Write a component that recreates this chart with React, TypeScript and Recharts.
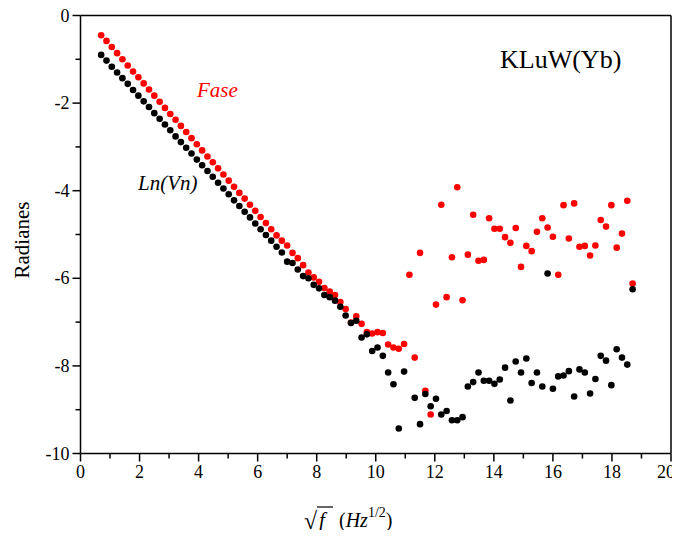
import React from 'react';
import { ScatterChart, Scatter, XAxis, YAxis, ReferenceLine } from 'recharts';

const xValues = [
  0.70, 0.88, 1.06, 1.24, 1.42, 1.60, 1.78, 1.96, 2.14, 2.32,
  2.50, 2.68, 2.86, 3.04, 3.22, 3.40, 3.58, 3.76, 3.94, 4.12,
  4.30, 4.48, 4.66, 4.84, 5.02, 5.20, 5.38, 5.56, 5.74, 5.92,
  6.10, 6.28, 6.46, 6.64, 6.82, 7.00, 7.18, 7.36, 7.54, 7.72,
  7.90, 8.08, 8.26, 8.44, 8.62, 8.80, 8.98, 9.16, 9.34, 9.52,
  9.70, 9.88, 10.06, 10.24, 10.42, 10.60, 10.78, 10.96, 11.14, 11.32,
  11.50, 11.68, 11.86, 12.04, 12.22, 12.40, 12.58, 12.76, 12.94, 13.12,
  13.30, 13.48, 13.66, 13.84, 14.02, 14.20, 14.38, 14.56, 14.74, 14.92,
  15.10, 15.28, 15.46, 15.64, 15.82, 16.00, 16.18, 16.36, 16.54, 16.72,
  16.90, 17.08, 17.26, 17.44, 17.62, 17.80, 17.98, 18.16, 18.34, 18.52,
  18.70,
];

const fase = [
  -0.45, -0.58, -0.72, -0.86, -1.00, -1.14, -1.28, -1.41, -1.55, -1.69,
  -1.83, -1.97, -2.11, -2.25, -2.38, -2.52, -2.66, -2.80, -2.94, -3.08,
  -3.22, -3.35, -3.49, -3.63, -3.77, -3.91, -4.05, -4.18, -4.32, -4.46,
  -4.60, -4.74, -4.88, -5.02, -5.14, -5.25, -5.42, -5.54, -5.70, -5.87,
  -5.98, -6.08, -6.22, -6.30, -6.38, -6.54, -6.70, -7.01, -6.87, -7.04,
  -7.23, -7.26, -7.23, -7.25, -7.51, -7.58, -7.61, -7.50, -5.92, -7.81,
  -5.42, -8.57, -9.11, -6.60, -4.32, -6.43, -5.52, -3.92, -6.50, -5.46,
  -4.55, -5.60, -5.58, -4.63, -4.87, -4.87, -5.06, -5.19, -4.85, -5.74,
  -5.26, -5.38, -4.94, -4.63, -4.84, -5.05, -5.92, -4.33, -5.09, -4.29,
  -5.28, -5.26, -5.48, -5.25, -4.67, -4.82, -4.33, -5.30, -4.98, -4.23,
  -6.12,
];

const lnVn: (number | null)[] = [
  -0.90, -1.03, -1.17, -1.30, -1.43, -1.56, -1.70, -1.83, -1.96, -2.09,
  -2.23, -2.36, -2.49, -2.62, -2.76, -2.89, -3.02, -3.15, -3.29, -3.42,
  -3.55, -3.68, -3.82, -3.95, -4.08, -4.22, -4.35, -4.48, -4.61, -4.75,
  -4.88, -5.01, -5.14, -5.28, -5.41, -5.62, -5.65, -5.80, -5.95, -6.00,
  -6.15, -6.23, -6.38, -6.43, -6.51, -6.65, -6.85, -7.02, -6.97, -7.35,
  -7.28, -7.66, -7.58, -7.77, -8.15, -8.42, -9.43, -8.13, null, -8.73,
  -9.33, -8.64, -8.92, -8.75, -9.11, -9.03, -9.24, -9.24, -9.17, -8.47,
  -8.37, -8.15, -8.34, -8.34, -8.41, -8.31, -8.04, -8.79, -7.90, -8.15,
  -7.83, -8.39, -8.15, -8.47, -5.89, -8.52, -8.24, -8.22, -8.12, -8.70,
  -8.08, -8.15, -8.63, -8.30, -7.77, -7.88, -8.44, -7.62, -7.81, -7.97,
  -6.25,
];

const xTicks = [0, 1, 2, 3, 4, 5, 6, 7, 8, 9, 10, 11, 12, 13, 14, 15, 16, 17, 18, 19, 20];
const yTicks = [0, -1, -2, -3, -4, -5, -6, -7, -8, -9, -10];

const FONT = '"Liberation Serif", "Times New Roman", serif';

const faseData = xValues.map((x, i) => ({ x, y: fase[i] }));
const lnVnData = xValues
  .map((x, i) => ({ x, y: lnVn[i] }))
  .filter((d) => d.y !== null);

const XTick = (props: any) => {
  const { x, y, payload } = props;
  const v = payload.value as number;
  const major = v % 2 === 0;
  const shift = v === 20 ? -5 : 0;
  return (
    <g>
      <line x1={x} y1={y} x2={x} y2={y + (major ? 8 : 5)} stroke="#000" strokeWidth={1.5} />
      {major && (
        <text x={x + shift} y={y + 24} textAnchor="middle" fontSize={18} fontFamily={FONT} fill="#000">
          {v}
        </text>
      )}
    </g>
  );
};

const YTick = (props: any) => {
  const { x, y, payload } = props;
  const v = payload.value as number;
  const major = v % 2 === 0;
  return (
    <g>
      <line x1={x - (major ? 8 : 5)} y1={y} x2={x} y2={y} stroke="#000" strokeWidth={1.5} />
      {major && (
        <text x={x - 11} y={y + 6} textAnchor="end" fontSize={18} fontFamily={FONT} fill="#000">
          {v === 0 ? '0' : '-' + Math.abs(v)}
        </text>
      )}
    </g>
  );
};

const dot = (color: string) => (p: any) => <circle cx={p.cx} cy={p.cy} r={3.3} fill={color} />;

export default function App() {
  return (
    <div style={{ position: 'relative', width: 672, height: 522 }}>
      <style>{'.recharts-surface{overflow:visible}'}</style>
      <ScatterChart
        width={672}
        height={522}
        margin={{ top: 7.5, right: 9, left: 0, bottom: 0 }}
      >
        <XAxis
          type="number"
          dataKey="x"
          domain={[0, 20]}
          ticks={xTicks}
          interval={0}
          tickSize={0}
          tickMargin={0}
          tickLine={false}
          tick={<XTick />}
          height={76.5}
          axisLine={{ stroke: '#000', strokeWidth: 1.5 }}
          allowDataOverflow
        />
        <YAxis
          type="number"
          dataKey="y"
          domain={[-10, 0]}
          ticks={yTicks}
          interval={0}
          tickSize={0}
          tickMargin={0}
          tickLine={false}
          tick={<YTick />}
          width={72.5}
          axisLine={{ stroke: '#000', strokeWidth: 1.5 }}
          allowDataOverflow
        />
        <ReferenceLine y={0} stroke="#000" strokeWidth={1.5} />
        <ReferenceLine x={20} stroke="#000" strokeWidth={1.5} />
        <Scatter name="Fase" data={faseData} fill="#ff0000" shape={dot('#ff0000')} isAnimationActive={false} />
        <Scatter name="Ln(Vn)" data={lnVnData} fill="#000000" shape={dot('#000000')} isAnimationActive={false} />
      </ScatterChart>
      <svg
        width={680}
        height={538}
        style={{ position: 'absolute', left: -8, top: -8, pointerEvents: 'none' }}
      >
        <text x={500} y={68} fontSize={26} fontFamily={FONT} fill="#000">KLuW(Yb)</text>
        <text x={197} y={97} fontSize={21} fontFamily={FONT} fontStyle="italic" fill="#ff0000">Fase</text>
        <text x={138} y={190} fontSize={21} fontFamily={FONT} fontStyle="italic" fill="#000">Ln(Vn)</text>
        <text
          x={29}
          y={240}
          fontSize={21}
          fontFamily={FONT}
          fill="#000"
          textAnchor="middle"
          transform="rotate(-90 29 240)"
        >
          Radianes
        </text>
        <text x={304} y={529} fontSize={24} fontFamily={FONT} fill="#000">√</text>
        <line x1={317} y1={507} x2={333} y2={507} stroke="#000" strokeWidth={1.2} />
        <text x={319} y={527} fontSize={21} fontFamily={FONT} fontStyle="italic" fill="#000">f</text>
        <text x={339} y={527} fontSize={20} fontFamily={FONT} fill="#000">
          (<tspan fontStyle="italic">Hz</tspan>
          <tspan dy={-10} fontSize={14}>1/2</tspan>
          <tspan dy={10}>)</tspan>
        </text>
      </svg>
    </div>
  );
}
